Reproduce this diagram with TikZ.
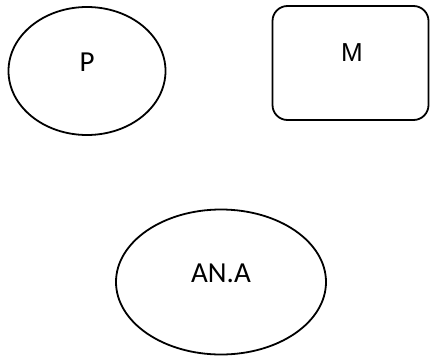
\documentclass[tikz,border=0pt]{standalone}
\usepackage{fontspec}
\setmainfont{Carlito}
\newfontfamily\armfont{Liberation Sans}
\usetikzlibrary{shapes.geometric}
\tikzset{
  blob/.style={draw, ellipse, line width=1.8pt, inner sep=0pt},
  boxed/.style={draw, rectangle, rounded corners=15pt, line width=1.8pt, inner sep=0pt},
  lbl/.style={font=\fontsize{29}{31}\selectfont, inner sep=0pt}
}
\begin{document}
\begin{tikzpicture}[x=1pt,y=-1pt]
\useasboundingbox (0,0) rectangle (430,356);
\node[blob, minimum width=157pt, minimum height=128pt] (P) at (87,71) {};
\node[lbl] (Plab) at (87,62) {P};
\node[boxed, minimum width=156pt, minimum height=114pt] (M) at (350.5,63) {};
\node[lbl, font=\armfont\fontsize{26}{28}\selectfont] (Mlab) at (352,53) {M};
\node[blob, minimum width=210pt, minimum height=145pt] (ANA) at (221,282) {};
\node[lbl] (ANAlab) at (221,273) {AN.A};
\end{tikzpicture}
\end{document}
